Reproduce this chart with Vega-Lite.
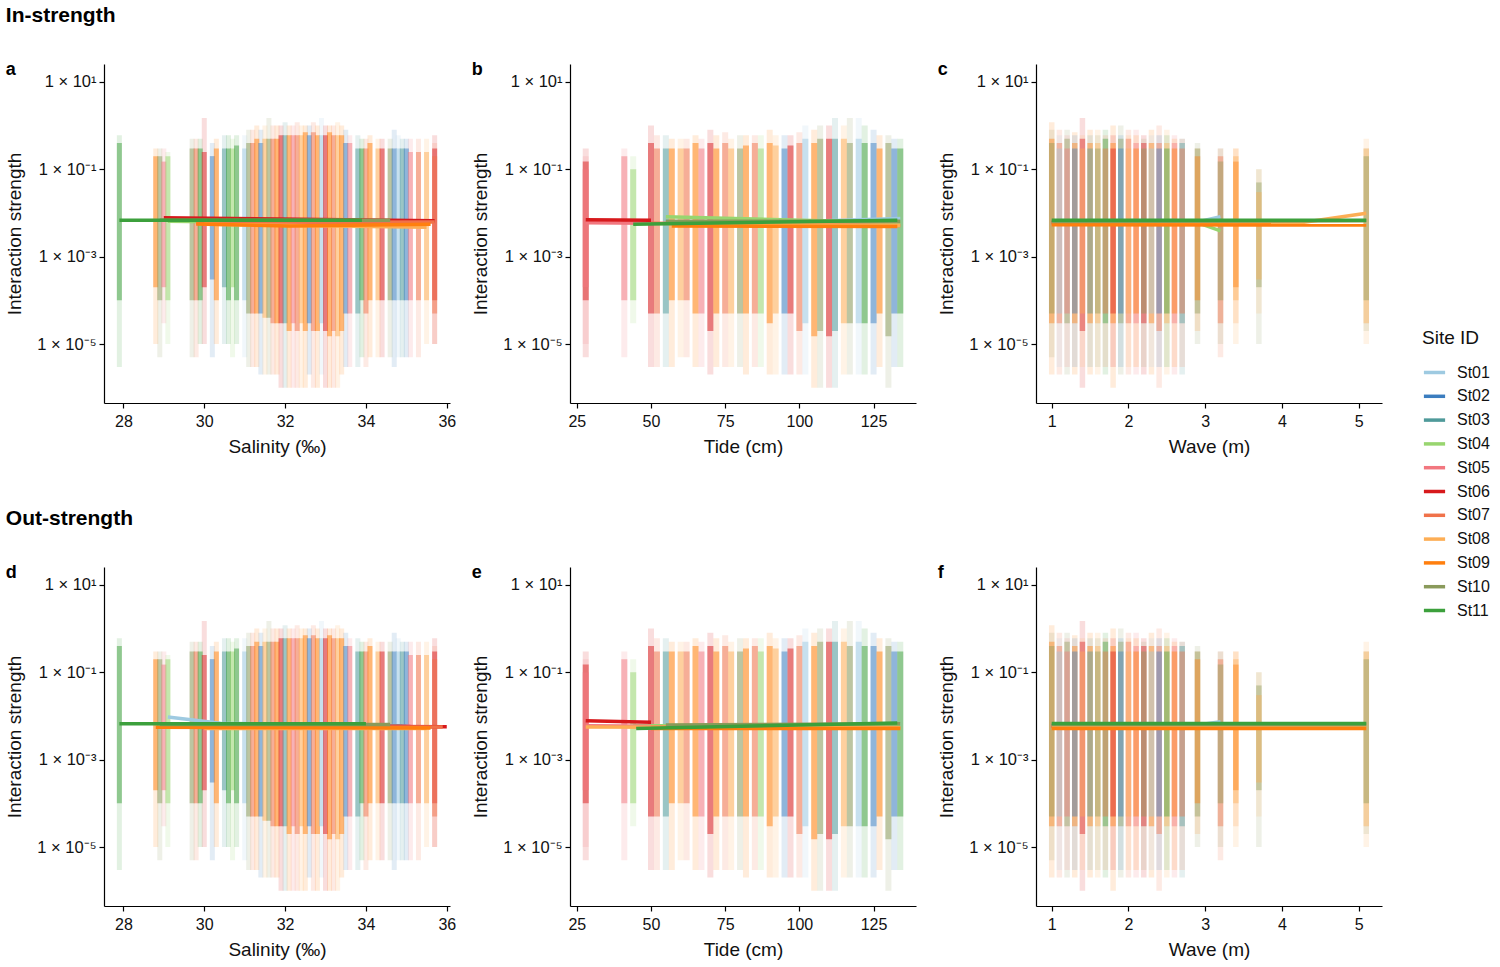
{
"$schema": "https://vega.github.io/schema/vega-lite/v6.json",
"padding": {"left": 5, "top": 5, "right": 5, "bottom": 5},
"config": {
  "font": "Liberation Sans",
  "view": {"stroke": null},
  "range": {"category": ["#9ecae1","#3b7dbf","#4f9a9a","#98d56f","#f2777f","#d7191c","#f0724a","#fdae55","#ff7f0e","#8a9a5b","#3ca03c"]},
  "axis": {"grid": false, "domainColor": "#000", "domainWidth": 1.2, "tickColor": "#000", "tickSize": 5, "tickWidth": 1.2, "labelFontSize": 16, "labelColor": "#111", "titleFontSize": 19, "titleFontWeight": "normal", "titleColor": "#111", "labelPadding": 3},
  "axisX": {"labelFlush": false, "labelPadding": 5, "titlePadding": 8, "labelOverlap": false},
  "axisY": {"labelFontSize": 16.5, "titlePadding": 12},
  "legend": {"orient": "none", "legendX": 1318, "legendY": 265, "symbolType": "stroke", "symbolStrokeWidth": 3.5, "symbolSize": 450, "symbolOpacity": 1, "titleFontSize": 19, "titleFontWeight": "normal", "titleColor": "#111", "labelFontSize": 16, "labelColor": "#111", "labelOffset": 10, "rowPadding": 2.8, "titlePadding": 12},
  "title": {"color": "#000"}
},
"datasets": {
  "sal": [
    {"x":27.9,"site":"St11","lo":1e-4,"hi":0.4,"lo2":3e-6,"hi2":0.6},
    {"x":28.8,"site":"St09","lo":2e-4,"hi":0.2,"lo2":1e-5,"hi2":0.3},
    {"x":28.9,"site":"St10","lo":1e-4,"hi":0.2,"lo2":5e-6,"hi2":0.3},
    {"x":29.0,"site":"St05","lo":2e-4,"hi":0.15,"lo2":3e-5,"hi2":0.3},
    {"x":29.1,"site":"St04","lo":1e-4,"hi":0.2,"lo2":1e-5,"hi2":0.25},
    {"x":29.7,"site":"St10","lo":1e-4,"hi":0.3,"lo2":5e-6,"hi2":0.5},
    {"x":29.8,"site":"St07","lo":1e-4,"hi":0.3,"lo2":5e-6,"hi2":0.5},
    {"x":29.9,"site":"St11","lo":1e-4,"hi":0.3,"lo2":1e-5,"hi2":0.5},
    {"x":30.0,"site":"St06","lo":2e-4,"hi":0.25,"lo2":1e-5,"hi2":1.5},
    {"x":30.2,"site":"St02","lo":3e-4,"hi":0.2,"lo2":5e-6,"hi2":0.4},
    {"x":30.3,"site":"St09","lo":1e-4,"hi":0.3,"lo2":1e-5,"hi2":0.5},
    {"x":30.5,"site":"St03","lo":2e-4,"hi":0.3,"lo2":1e-5,"hi2":0.6},
    {"x":30.6,"site":"St11","lo":1e-4,"hi":0.3,"lo2":1e-5,"hi2":0.6},
    {"x":30.7,"site":"St04","lo":2e-4,"hi":0.3,"lo2":5e-6,"hi2":0.5},
    {"x":30.8,"site":"St11","lo":1e-4,"hi":0.35,"lo2":1e-5,"hi2":0.6},
    {"x":31.0,"site":"St01","lo":1e-4,"hi":0.3,"lo2":5e-6,"hi2":0.6},
    {"x":31.1,"site":"St10","lo":5e-5,"hi":0.4,"lo2":3e-6,"hi2":0.8},
    {"x":31.2,"site":"St07","lo":5e-5,"hi":0.4,"lo2":3e-6,"hi2":0.8},
    {"x":31.3,"site":"St09","lo":5e-5,"hi":0.5,"lo2":3e-6,"hi2":1},
    {"x":31.4,"site":"St02","lo":5e-5,"hi":0.4,"lo2":2e-6,"hi2":0.8},
    {"x":31.5,"site":"St08","lo":4e-5,"hi":0.5,"lo2":2e-6,"hi2":1},
    {"x":31.6,"site":"St10","lo":4e-5,"hi":0.5,"lo2":2e-6,"hi2":1.5},
    {"x":31.7,"site":"St07","lo":3e-5,"hi":0.5,"lo2":2e-6,"hi2":1},
    {"x":31.8,"site":"St09","lo":3e-5,"hi":0.5,"lo2":2e-6,"hi2":1},
    {"x":31.9,"site":"St06","lo":3e-5,"hi":0.6,"lo2":1e-6,"hi2":1},
    {"x":32.0,"site":"St03","lo":3e-5,"hi":0.6,"lo2":1e-6,"hi2":1.2},
    {"x":32.1,"site":"St09","lo":2e-5,"hi":0.6,"lo2":1e-6,"hi2":1},
    {"x":32.2,"site":"St05","lo":3e-5,"hi":0.6,"lo2":1e-6,"hi2":1},
    {"x":32.3,"site":"St07","lo":2e-5,"hi":0.6,"lo2":1e-6,"hi2":1.2},
    {"x":32.4,"site":"St08","lo":3e-5,"hi":0.6,"lo2":1e-6,"hi2":1},
    {"x":32.5,"site":"St09","lo":2e-5,"hi":0.7,"lo2":1e-6,"hi2":1},
    {"x":32.6,"site":"St02","lo":3e-5,"hi":0.6,"lo2":2e-6,"hi2":1},
    {"x":32.7,"site":"St07","lo":2e-5,"hi":0.7,"lo2":1e-6,"hi2":1.2},
    {"x":32.8,"site":"St09","lo":2e-5,"hi":0.6,"lo2":1e-6,"hi2":1},
    {"x":32.9,"site":"St01","lo":3e-5,"hi":0.6,"lo2":2e-6,"hi2":1.5},
    {"x":33.0,"site":"St06","lo":2e-5,"hi":0.6,"lo2":1e-6,"hi2":1},
    {"x":33.1,"site":"St09","lo":1.5e-5,"hi":0.7,"lo2":1e-6,"hi2":1},
    {"x":33.2,"site":"St07","lo":2e-5,"hi":0.6,"lo2":1e-6,"hi2":1},
    {"x":33.3,"site":"St08","lo":1.5e-5,"hi":0.6,"lo2":1e-6,"hi2":1.2},
    {"x":33.4,"site":"St09","lo":2e-5,"hi":0.6,"lo2":2e-6,"hi2":1},
    {"x":33.5,"site":"St02","lo":5e-5,"hi":0.4,"lo2":3e-6,"hi2":0.8},
    {"x":33.6,"site":"St05","lo":5e-5,"hi":0.4,"lo2":3e-6,"hi2":0.6},
    {"x":33.8,"site":"St03","lo":5e-5,"hi":0.3,"lo2":3e-6,"hi2":0.6},
    {"x":33.9,"site":"St11","lo":1e-4,"hi":0.3,"lo2":5e-6,"hi2":0.5},
    {"x":34.0,"site":"St07","lo":5e-5,"hi":0.3,"lo2":3e-6,"hi2":0.5},
    {"x":34.1,"site":"St09","lo":1e-4,"hi":0.4,"lo2":5e-6,"hi2":0.6},
    {"x":34.3,"site":"St08","lo":1e-4,"hi":0.3,"lo2":5e-6,"hi2":0.5},
    {"x":34.4,"site":"St06","lo":1e-4,"hi":0.3,"lo2":5e-6,"hi2":0.5},
    {"x":34.6,"site":"St10","lo":1e-4,"hi":0.3,"lo2":5e-6,"hi2":0.5},
    {"x":34.7,"site":"St02","lo":1e-4,"hi":0.3,"lo2":3e-6,"hi2":0.8},
    {"x":34.8,"site":"St01","lo":1e-4,"hi":0.3,"lo2":5e-6,"hi2":0.6},
    {"x":34.9,"site":"St03","lo":1e-4,"hi":0.3,"lo2":5e-6,"hi2":0.5},
    {"x":35.0,"site":"St02","lo":1e-4,"hi":0.3,"lo2":5e-6,"hi2":0.5},
    {"x":35.1,"site":"St05","lo":1e-4,"hi":0.25,"lo2":5e-6,"hi2":0.5},
    {"x":35.3,"site":"St07","lo":1e-4,"hi":0.25,"lo2":5e-6,"hi2":0.5},
    {"x":35.5,"site":"St08","lo":1e-4,"hi":0.25,"lo2":1e-5,"hi2":0.5},
    {"x":35.7,"site":"St06","lo":1e-4,"hi":0.3,"lo2":1e-5,"hi2":0.6},
    {"x":35.7,"site":"St07","lo":5e-5,"hi":0.2,"lo2":1e-5,"hi2":0.4}
  ],
  "tide": [
    {"x":28,"site":"St06","lo":1e-4,"hi":0.15,"lo2":5e-6,"hi2":0.3},
    {"x":28,"site":"St05","lo":2e-4,"hi":0.1,"lo2":1e-5,"hi2":0.2},
    {"x":41,"site":"St05","lo":1e-4,"hi":0.2,"lo2":5e-6,"hi2":0.3},
    {"x":44,"site":"St04","lo":1e-4,"hi":0.1,"lo2":3e-5,"hi2":0.2},
    {"x":50,"site":"St06","lo":5e-5,"hi":0.4,"lo2":3e-6,"hi2":1},
    {"x":52,"site":"St07","lo":5e-5,"hi":0.3,"lo2":3e-6,"hi2":0.6},
    {"x":55,"site":"St03","lo":5e-5,"hi":0.3,"lo2":3e-6,"hi2":0.6},
    {"x":57,"site":"St09","lo":1e-4,"hi":0.3,"lo2":3e-6,"hi2":0.5},
    {"x":60,"site":"St08","lo":1e-4,"hi":0.3,"lo2":5e-6,"hi2":0.5},
    {"x":62,"site":"St07","lo":1e-4,"hi":0.3,"lo2":5e-6,"hi2":0.5},
    {"x":65,"site":"St09","lo":5e-5,"hi":0.4,"lo2":3e-6,"hi2":0.6},
    {"x":67,"site":"St05","lo":5e-5,"hi":0.3,"lo2":3e-6,"hi2":0.5},
    {"x":70,"site":"St06","lo":2e-5,"hi":0.4,"lo2":2e-6,"hi2":0.8},
    {"x":72,"site":"St09","lo":5e-5,"hi":0.3,"lo2":3e-6,"hi2":0.6},
    {"x":75,"site":"St07","lo":5e-5,"hi":0.4,"lo2":3e-6,"hi2":0.7},
    {"x":77,"site":"St08","lo":5e-5,"hi":0.3,"lo2":3e-6,"hi2":0.5},
    {"x":80,"site":"St10","lo":5e-5,"hi":0.3,"lo2":3e-6,"hi2":0.6},
    {"x":82,"site":"St09","lo":5e-5,"hi":0.35,"lo2":2e-6,"hi2":0.6},
    {"x":85,"site":"St07","lo":5e-5,"hi":0.4,"lo2":3e-6,"hi2":0.6},
    {"x":87,"site":"St04","lo":5e-5,"hi":0.3,"lo2":3e-6,"hi2":0.6},
    {"x":90,"site":"St09","lo":3e-5,"hi":0.4,"lo2":2e-6,"hi2":0.8},
    {"x":92,"site":"St08","lo":5e-5,"hi":0.35,"lo2":2e-6,"hi2":0.6},
    {"x":95,"site":"St02","lo":5e-5,"hi":0.3,"lo2":2e-6,"hi2":0.6},
    {"x":97,"site":"St06","lo":5e-5,"hi":0.35,"lo2":2e-6,"hi2":0.6},
    {"x":100,"site":"St07","lo":2e-5,"hi":0.4,"lo2":2e-6,"hi2":0.7},
    {"x":102,"site":"St01","lo":3e-5,"hi":0.5,"lo2":2e-6,"hi2":1},
    {"x":105,"site":"St09","lo":1.5e-5,"hi":0.4,"lo2":1e-6,"hi2":0.8},
    {"x":107,"site":"St10","lo":2e-5,"hi":0.5,"lo2":1e-6,"hi2":1},
    {"x":110,"site":"St06","lo":1.5e-5,"hi":0.5,"lo2":1e-6,"hi2":1},
    {"x":112,"site":"St03","lo":2e-5,"hi":0.5,"lo2":1e-6,"hi2":1.5},
    {"x":115,"site":"St08","lo":3e-5,"hi":0.5,"lo2":2e-6,"hi2":1},
    {"x":117,"site":"St10","lo":3e-5,"hi":0.4,"lo2":2e-6,"hi2":1.5},
    {"x":120,"site":"St01","lo":3e-5,"hi":0.5,"lo2":2e-6,"hi2":1.5},
    {"x":122,"site":"St11","lo":3e-5,"hi":0.4,"lo2":2e-6,"hi2":1},
    {"x":125,"site":"St02","lo":3e-5,"hi":0.4,"lo2":2e-6,"hi2":0.8},
    {"x":127,"site":"St09","lo":5e-5,"hi":0.3,"lo2":3e-6,"hi2":0.6},
    {"x":130,"site":"St10","lo":1.5e-5,"hi":0.4,"lo2":1e-6,"hi2":0.6},
    {"x":132,"site":"St02","lo":5e-5,"hi":0.3,"lo2":3e-6,"hi2":0.5},
    {"x":134,"site":"St11","lo":5e-5,"hi":0.3,"lo2":3e-6,"hi2":0.5}
  ],
  "wave": [
    {"x":1.0,"site":"St09","lo":3e-5,"hi":0.5,"lo2":2e-6,"hi2":1.2},
    {"x":1.0,"site":"St10","lo":5e-5,"hi":0.4,"lo2":5e-6,"hi2":0.8},
    {"x":1.1,"site":"St07","lo":3e-5,"hi":0.4,"lo2":2e-6,"hi2":0.8},
    {"x":1.1,"site":"St01","lo":5e-5,"hi":0.3,"lo2":3e-6,"hi2":0.6},
    {"x":1.2,"site":"St10","lo":3e-5,"hi":0.5,"lo2":2e-6,"hi2":0.8},
    {"x":1.2,"site":"St05","lo":5e-5,"hi":0.3,"lo2":3e-6,"hi2":0.6},
    {"x":1.3,"site":"St09","lo":3e-5,"hi":0.4,"lo2":2e-6,"hi2":0.7},
    {"x":1.3,"site":"St02","lo":5e-5,"hi":0.3,"lo2":3e-6,"hi2":0.6},
    {"x":1.4,"site":"St06","lo":2e-5,"hi":0.5,"lo2":1e-6,"hi2":1.5},
    {"x":1.4,"site":"St08","lo":5e-5,"hi":0.3,"lo2":3e-6,"hi2":0.6},
    {"x":1.5,"site":"St09","lo":3e-5,"hi":0.4,"lo2":2e-6,"hi2":0.8},
    {"x":1.5,"site":"St03","lo":5e-5,"hi":0.3,"lo2":3e-6,"hi2":0.6},
    {"x":1.6,"site":"St08","lo":3e-5,"hi":0.4,"lo2":2e-6,"hi2":0.8},
    {"x":1.6,"site":"St10","lo":5e-5,"hi":0.3,"lo2":3e-6,"hi2":0.6},
    {"x":1.7,"site":"St11","lo":3e-5,"hi":0.5,"lo2":2e-6,"hi2":0.8},
    {"x":1.7,"site":"St07","lo":5e-5,"hi":0.3,"lo2":3e-6,"hi2":0.6},
    {"x":1.8,"site":"St09","lo":3e-5,"hi":0.4,"lo2":1e-6,"hi2":1},
    {"x":1.8,"site":"St06","lo":5e-5,"hi":0.3,"lo2":3e-6,"hi2":0.6},
    {"x":1.9,"site":"St10","lo":3e-5,"hi":0.5,"lo2":2e-6,"hi2":1},
    {"x":1.9,"site":"St02","lo":5e-5,"hi":0.3,"lo2":3e-6,"hi2":0.6},
    {"x":2.0,"site":"St07","lo":3e-5,"hi":0.5,"lo2":2e-6,"hi2":0.8},
    {"x":2.0,"site":"St08","lo":5e-5,"hi":0.3,"lo2":3e-6,"hi2":0.6},
    {"x":2.1,"site":"St05","lo":3e-5,"hi":0.4,"lo2":2e-6,"hi2":0.8},
    {"x":2.1,"site":"St09","lo":5e-5,"hi":0.3,"lo2":3e-6,"hi2":0.6},
    {"x":2.2,"site":"St06","lo":3e-5,"hi":0.4,"lo2":2e-6,"hi2":0.6},
    {"x":2.2,"site":"St10","lo":5e-5,"hi":0.3,"lo2":3e-6,"hi2":0.5},
    {"x":2.3,"site":"St09","lo":3e-5,"hi":0.4,"lo2":2e-6,"hi2":0.8},
    {"x":2.3,"site":"St01","lo":5e-5,"hi":0.3,"lo2":3e-6,"hi2":0.6},
    {"x":2.4,"site":"St07","lo":2e-5,"hi":0.4,"lo2":1e-6,"hi2":1},
    {"x":2.4,"site":"St02","lo":5e-5,"hi":0.3,"lo2":3e-6,"hi2":0.6},
    {"x":2.5,"site":"St08","lo":3e-5,"hi":0.4,"lo2":2e-6,"hi2":0.8},
    {"x":2.5,"site":"St11","lo":5e-5,"hi":0.3,"lo2":3e-6,"hi2":0.6},
    {"x":2.6,"site":"St05","lo":3e-5,"hi":0.4,"lo2":2e-6,"hi2":0.6},
    {"x":2.6,"site":"St09","lo":5e-5,"hi":0.3,"lo2":3e-6,"hi2":0.5},
    {"x":2.7,"site":"St03","lo":3e-5,"hi":0.4,"lo2":2e-6,"hi2":0.5},
    {"x":2.7,"site":"St07","lo":5e-5,"hi":0.3,"lo2":3e-6,"hi2":0.5},
    {"x":2.9,"site":"St10","lo":5e-5,"hi":0.3,"lo2":1e-5,"hi2":0.4},
    {"x":2.9,"site":"St09","lo":1e-4,"hi":0.2,"lo2":2e-5,"hi2":0.3},
    {"x":3.2,"site":"St07","lo":3e-5,"hi":0.2,"lo2":5e-6,"hi2":0.3},
    {"x":3.2,"site":"St10","lo":1e-4,"hi":0.15,"lo2":1e-5,"hi2":0.3},
    {"x":3.4,"site":"St08","lo":1e-4,"hi":0.2,"lo2":1e-5,"hi2":0.3},
    {"x":3.4,"site":"St09","lo":2e-4,"hi":0.15,"lo2":3e-5,"hi2":0.3},
    {"x":3.7,"site":"St10","lo":2e-4,"hi":0.05,"lo2":1e-5,"hi2":0.1},
    {"x":3.7,"site":"St08","lo":3e-4,"hi":0.03,"lo2":5e-5,"hi2":0.1},
    {"x":5.1,"site":"St08","lo":3e-5,"hi":0.3,"lo2":1e-5,"hi2":0.5},
    {"x":5.1,"site":"St10","lo":1e-4,"hi":0.2,"lo2":2e-5,"hi2":0.3}
  ],
  "trend": [
    {"p":"a","site":"St01","x":30.9,"y":0.0062},{"p":"a","site":"St01","x":34.8,"y":0.006},
    {"p":"a","site":"St02","x":30.2,"y":0.006},{"p":"a","site":"St02","x":35.0,"y":0.0058},
    {"p":"a","site":"St03","x":30.5,"y":0.006},{"p":"a","site":"St03","x":34.9,"y":0.0061},
    {"p":"a","site":"St04","x":29.1,"y":0.0065},{"p":"a","site":"St04","x":30.7,"y":0.0062},
    {"p":"a","site":"St05","x":29.0,"y":0.007},{"p":"a","site":"St05","x":35.1,"y":0.0065},
    {"p":"a","site":"St06","x":29.0,"y":0.0078},{"p":"a","site":"St06","x":35.7,"y":0.0066},
    {"p":"a","site":"St07","x":29.8,"y":0.006},{"p":"a","site":"St07","x":35.7,"y":0.0062},
    {"p":"a","site":"St08","x":30.0,"y":0.0055},{"p":"a","site":"St08","x":35.5,"y":0.0047},
    {"p":"a","site":"St09","x":29.8,"y":0.0056},{"p":"a","site":"St09","x":32.1,"y":0.005},{"p":"a","site":"St09","x":35.6,"y":0.0055},
    {"p":"a","site":"St10","x":28.9,"y":0.0068},{"p":"a","site":"St10","x":34.6,"y":0.0068},
    {"p":"a","site":"St11","x":27.9,"y":0.0068},{"p":"a","site":"St11","x":33.9,"y":0.0068},

    {"p":"b","site":"St01","x":95,"y":0.0062},{"p":"b","site":"St01","x":134,"y":0.0075},
    {"p":"b","site":"St02","x":95,"y":0.006},{"p":"b","site":"St02","x":132,"y":0.0058},
    {"p":"b","site":"St03","x":55,"y":0.0062},{"p":"b","site":"St03","x":132,"y":0.006},
    {"p":"b","site":"St04","x":55,"y":0.0082},{"p":"b","site":"St04","x":134,"y":0.006},
    {"p":"b","site":"St05","x":28,"y":0.006},{"p":"b","site":"St05","x":50,"y":0.0058},
    {"p":"b","site":"St06","x":28,"y":0.007},{"p":"b","site":"St06","x":50,"y":0.0068},
    {"p":"b","site":"St07","x":50,"y":0.0058},{"p":"b","site":"St07","x":134,"y":0.0052},
    {"p":"b","site":"St08","x":60,"y":0.0055},{"p":"b","site":"St08","x":134,"y":0.0052},
    {"p":"b","site":"St09","x":57,"y":0.005},{"p":"b","site":"St09","x":133,"y":0.0049},
    {"p":"b","site":"St10","x":55,"y":0.0065},{"p":"b","site":"St10","x":134,"y":0.0065},
    {"p":"b","site":"St11","x":44,"y":0.0055},{"p":"b","site":"St11","x":133,"y":0.0068},

    {"p":"c","site":"St01","x":1.0,"y":0.0058},{"p":"c","site":"St01","x":2.9,"y":0.0062},{"p":"c","site":"St01","x":3.2,"y":0.0082},
    {"p":"c","site":"St02","x":1.0,"y":0.006},{"p":"c","site":"St02","x":3.2,"y":0.006},
    {"p":"c","site":"St03","x":1.0,"y":0.0061},{"p":"c","site":"St03","x":2.9,"y":0.006},
    {"p":"c","site":"St04","x":1.0,"y":0.006},{"p":"c","site":"St04","x":2.9,"y":0.006},{"p":"c","site":"St04","x":3.2,"y":0.0039},
    {"p":"c","site":"St05","x":1.0,"y":0.0058},{"p":"c","site":"St05","x":2.7,"y":0.006},
    {"p":"c","site":"St06","x":1.0,"y":0.006},{"p":"c","site":"St06","x":2.7,"y":0.0058},
    {"p":"c","site":"St07","x":1.0,"y":0.006},{"p":"c","site":"St07","x":3.7,"y":0.0058},
    {"p":"c","site":"St08","x":1.0,"y":0.0058},{"p":"c","site":"St08","x":4.2,"y":0.0058},{"p":"c","site":"St08","x":5.1,"y":0.0098},
    {"p":"c","site":"St09","x":1.0,"y":0.0054},{"p":"c","site":"St09","x":5.1,"y":0.0053},
    {"p":"c","site":"St10","x":1.0,"y":0.0064},{"p":"c","site":"St10","x":5.1,"y":0.0066},
    {"p":"c","site":"St11","x":1.0,"y":0.0068},{"p":"c","site":"St11","x":5.1,"y":0.0068},

    {"p":"d","site":"St01","x":29.1,"y":0.0095},{"p":"d","site":"St01","x":30.4,"y":0.0068},{"p":"d","site":"St01","x":34.8,"y":0.006},
    {"p":"d","site":"St02","x":30.2,"y":0.006},{"p":"d","site":"St02","x":35.0,"y":0.0058},
    {"p":"d","site":"St03","x":30.5,"y":0.006},{"p":"d","site":"St03","x":34.9,"y":0.006},
    {"p":"d","site":"St04","x":29.1,"y":0.0062},{"p":"d","site":"St04","x":30.7,"y":0.006},
    {"p":"d","site":"St05","x":29.0,"y":0.006},{"p":"d","site":"St05","x":35.1,"y":0.0058},
    {"p":"d","site":"St06","x":29.0,"y":0.006},{"p":"d","site":"St06","x":36.0,"y":0.0057},
    {"p":"d","site":"St07","x":29.8,"y":0.0056},{"p":"d","site":"St07","x":35.9,"y":0.0056},
    {"p":"d","site":"St08","x":30.0,"y":0.0052},{"p":"d","site":"St08","x":35.5,"y":0.0052},
    {"p":"d","site":"St09","x":28.8,"y":0.0055},{"p":"d","site":"St09","x":35.6,"y":0.0053},
    {"p":"d","site":"St10","x":28.9,"y":0.0064},{"p":"d","site":"St10","x":34.6,"y":0.0064},
    {"p":"d","site":"St11","x":27.9,"y":0.0066},{"p":"d","site":"St11","x":34.0,"y":0.0066},

    {"p":"e","site":"St01","x":95,"y":0.006},{"p":"e","site":"St01","x":134,"y":0.0062},
    {"p":"e","site":"St02","x":95,"y":0.006},{"p":"e","site":"St02","x":132,"y":0.0058},
    {"p":"e","site":"St03","x":55,"y":0.0058},{"p":"e","site":"St03","x":132,"y":0.006},
    {"p":"e","site":"St04","x":44,"y":0.006},{"p":"e","site":"St04","x":134,"y":0.006},
    {"p":"e","site":"St05","x":28,"y":0.006},{"p":"e","site":"St05","x":50,"y":0.0058},
    {"p":"e","site":"St06","x":28,"y":0.0078},{"p":"e","site":"St06","x":50,"y":0.0072},
    {"p":"e","site":"St07","x":50,"y":0.0056},{"p":"e","site":"St07","x":134,"y":0.0054},
    {"p":"e","site":"St08","x":28,"y":0.0056},{"p":"e","site":"St08","x":134,"y":0.0053},
    {"p":"e","site":"St09","x":50,"y":0.0052},{"p":"e","site":"St09","x":134,"y":0.0052},
    {"p":"e","site":"St10","x":55,"y":0.0062},{"p":"e","site":"St10","x":134,"y":0.0066},
    {"p":"e","site":"St11","x":45,"y":0.0052},{"p":"e","site":"St11","x":133,"y":0.0069},

    {"p":"f","site":"St01","x":1.0,"y":0.006},{"p":"f","site":"St01","x":2.9,"y":0.0062},{"p":"f","site":"St01","x":3.2,"y":0.0074},
    {"p":"f","site":"St02","x":1.0,"y":0.006},{"p":"f","site":"St02","x":3.2,"y":0.006},
    {"p":"f","site":"St03","x":1.0,"y":0.006},{"p":"f","site":"St03","x":2.9,"y":0.006},
    {"p":"f","site":"St04","x":1.0,"y":0.006},{"p":"f","site":"St04","x":3.2,"y":0.0058},
    {"p":"f","site":"St05","x":1.0,"y":0.0058},{"p":"f","site":"St05","x":2.7,"y":0.0058},
    {"p":"f","site":"St06","x":1.0,"y":0.0058},{"p":"f","site":"St06","x":2.7,"y":0.0058},
    {"p":"f","site":"St07","x":1.0,"y":0.0057},{"p":"f","site":"St07","x":3.7,"y":0.0057},
    {"p":"f","site":"St08","x":1.0,"y":0.0056},{"p":"f","site":"St08","x":5.1,"y":0.0056},
    {"p":"f","site":"St09","x":1.0,"y":0.0052},{"p":"f","site":"St09","x":5.1,"y":0.0052},
    {"p":"f","site":"St10","x":1.0,"y":0.0064},{"p":"f","site":"St10","x":5.1,"y":0.0064},
    {"p":"f","site":"St11","x":1.0,"y":0.0067},{"p":"f","site":"St11","x":5.1,"y":0.0067}
  ]
},
"spacing": 52,
"vconcat": [
  {
    "title": {"text": "In-strength", "anchor": "start", "frame": "bounds", "fontSize": 21, "fontWeight": "bold", "offset": 35},
    "bounds": "flush",
    "spacing": 120,
    "hconcat": [
      {"width": 346, "height": 339,
       "title": {"text": "a", "anchor": "start", "frame": "bounds", "offset": -29, "baseline": "alphabetic", "fontSize": 18, "fontWeight": "bold"},
       "layer": [
        {"data": {"name": "sal"}, "mark": {"type": "rule", "strokeWidth": 5, "opacity": 0.15},
         "encoding": {
          "x": {"field": "x", "type": "quantitative", "scale": {"domain": [27.52, 36.08], "nice": false, "zero": false}, "axis": {"title": "Salinity (‰)", "values": [28, 30, 32, 34, 36]}},
          "y": {"field": "lo2", "type": "quantitative", "scale": {"type": "log", "domain": [4.47e-7, 25.7], "nice": false}, "axis": {"title": "Interaction strength", "values": [10, 0.1, 0.001, 0.00001], "labelExpr": "datum.value > 1 ? '1 × 10¹' : datum.value > 0.01 ? '1 × 10⁻¹' : datum.value > 0.0001 ? '1 × 10⁻³' : '1 × 10⁻⁵'"}},
          "y2": {"field": "hi2"},
          "color": {"field": "site", "type": "nominal", "title": "Site ID"}}},
        {"data": {"name": "sal"}, "mark": {"type": "rule", "strokeWidth": 5, "opacity": 0.5},
         "encoding": {"x": {"field": "x", "type": "quantitative"}, "y": {"field": "lo", "type": "quantitative"}, "y2": {"field": "hi"}, "color": {"field": "site", "type": "nominal", "title": "Site ID"}}},
        {"data": {"name": "trend"}, "transform": [{"filter": "datum.p === 'a'"}], "mark": {"type": "line", "strokeWidth": 3.5},
         "encoding": {"x": {"field": "x", "type": "quantitative"}, "y": {"field": "y", "type": "quantitative"}, "color": {"field": "site", "type": "nominal", "title": "Site ID"}}}
       ]},
      {"width": 346, "height": 339,
       "title": {"text": "b", "anchor": "start", "frame": "bounds", "offset": -29, "baseline": "alphabetic", "fontSize": 18, "fontWeight": "bold"},
       "layer": [
        {"data": {"name": "tide"}, "mark": {"type": "rule", "strokeWidth": 6, "opacity": 0.15},
         "encoding": {
          "x": {"field": "x", "type": "quantitative", "scale": {"domain": [22.7, 139.3], "nice": false, "zero": false}, "axis": {"title": "Tide (cm)", "values": [25, 50, 75, 100, 125]}},
          "y": {"field": "lo2", "type": "quantitative", "scale": {"type": "log", "domain": [4.47e-7, 25.7], "nice": false}, "axis": {"title": "Interaction strength", "values": [10, 0.1, 0.001, 0.00001], "labelExpr": "datum.value > 1 ? '1 × 10¹' : datum.value > 0.01 ? '1 × 10⁻¹' : datum.value > 0.0001 ? '1 × 10⁻³' : '1 × 10⁻⁵'"}},
          "y2": {"field": "hi2"},
          "color": {"field": "site", "type": "nominal", "title": "Site ID"}}},
        {"data": {"name": "tide"}, "mark": {"type": "rule", "strokeWidth": 6, "opacity": 0.5},
         "encoding": {"x": {"field": "x", "type": "quantitative"}, "y": {"field": "lo", "type": "quantitative"}, "y2": {"field": "hi"}, "color": {"field": "site", "type": "nominal", "title": "Site ID"}}},
        {"data": {"name": "trend"}, "transform": [{"filter": "datum.p === 'b'"}], "mark": {"type": "line", "strokeWidth": 3.5},
         "encoding": {"x": {"field": "x", "type": "quantitative"}, "y": {"field": "y", "type": "quantitative"}, "color": {"field": "site", "type": "nominal", "title": "Site ID"}}}
       ]},
      {"width": 346, "height": 339,
       "title": {"text": "c", "anchor": "start", "frame": "bounds", "offset": -29, "baseline": "alphabetic", "fontSize": 18, "fontWeight": "bold"},
       "layer": [
        {"data": {"name": "wave"}, "mark": {"type": "rule", "strokeWidth": 5.5, "opacity": 0.15},
         "encoding": {
          "x": {"field": "x", "type": "quantitative", "scale": {"domain": [0.795, 5.305], "nice": false, "zero": false}, "axis": {"title": "Wave (m)", "values": [1, 2, 3, 4, 5], "format": "d"}},
          "y": {"field": "lo2", "type": "quantitative", "scale": {"type": "log", "domain": [4.47e-7, 25.7], "nice": false}, "axis": {"title": "Interaction strength", "values": [10, 0.1, 0.001, 0.00001], "labelExpr": "datum.value > 1 ? '1 × 10¹' : datum.value > 0.01 ? '1 × 10⁻¹' : datum.value > 0.0001 ? '1 × 10⁻³' : '1 × 10⁻⁵'"}},
          "y2": {"field": "hi2"},
          "color": {"field": "site", "type": "nominal", "title": "Site ID"}}},
        {"data": {"name": "wave"}, "mark": {"type": "rule", "strokeWidth": 5.5, "opacity": 0.42},
         "encoding": {"x": {"field": "x", "type": "quantitative"}, "y": {"field": "lo", "type": "quantitative"}, "y2": {"field": "hi"}, "color": {"field": "site", "type": "nominal", "title": "Site ID"}}},
        {"data": {"name": "trend"}, "transform": [{"filter": "datum.p === 'c'"}], "mark": {"type": "line", "strokeWidth": 3.5},
         "encoding": {"x": {"field": "x", "type": "quantitative"}, "y": {"field": "y", "type": "quantitative"}, "color": {"field": "site", "type": "nominal", "title": "Site ID"}}}
       ]}
    ]
  },
  {
    "title": {"text": "Out-strength", "anchor": "start", "frame": "bounds", "fontSize": 21, "fontWeight": "bold", "offset": 35},
    "bounds": "flush",
    "spacing": 120,
    "hconcat": [
      {"width": 346, "height": 339,
       "title": {"text": "d", "anchor": "start", "frame": "bounds", "offset": -29, "baseline": "alphabetic", "fontSize": 18, "fontWeight": "bold"},
       "layer": [
        {"data": {"name": "sal"}, "mark": {"type": "rule", "strokeWidth": 5, "opacity": 0.15},
         "encoding": {
          "x": {"field": "x", "type": "quantitative", "scale": {"domain": [27.52, 36.08], "nice": false, "zero": false}, "axis": {"title": "Salinity (‰)", "values": [28, 30, 32, 34, 36]}},
          "y": {"field": "lo2", "type": "quantitative", "scale": {"type": "log", "domain": [4.47e-7, 25.7], "nice": false}, "axis": {"title": "Interaction strength", "values": [10, 0.1, 0.001, 0.00001], "labelExpr": "datum.value > 1 ? '1 × 10¹' : datum.value > 0.01 ? '1 × 10⁻¹' : datum.value > 0.0001 ? '1 × 10⁻³' : '1 × 10⁻⁵'"}},
          "y2": {"field": "hi2"},
          "color": {"field": "site", "type": "nominal", "title": "Site ID"}}},
        {"data": {"name": "sal"}, "mark": {"type": "rule", "strokeWidth": 5, "opacity": 0.5},
         "encoding": {"x": {"field": "x", "type": "quantitative"}, "y": {"field": "lo", "type": "quantitative"}, "y2": {"field": "hi"}, "color": {"field": "site", "type": "nominal", "title": "Site ID"}}},
        {"data": {"name": "trend"}, "transform": [{"filter": "datum.p === 'd'"}], "mark": {"type": "line", "strokeWidth": 3.5},
         "encoding": {"x": {"field": "x", "type": "quantitative"}, "y": {"field": "y", "type": "quantitative"}, "color": {"field": "site", "type": "nominal", "title": "Site ID"}}}
       ]},
      {"width": 346, "height": 339,
       "title": {"text": "e", "anchor": "start", "frame": "bounds", "offset": -29, "baseline": "alphabetic", "fontSize": 18, "fontWeight": "bold"},
       "layer": [
        {"data": {"name": "tide"}, "mark": {"type": "rule", "strokeWidth": 6, "opacity": 0.15},
         "encoding": {
          "x": {"field": "x", "type": "quantitative", "scale": {"domain": [22.7, 139.3], "nice": false, "zero": false}, "axis": {"title": "Tide (cm)", "values": [25, 50, 75, 100, 125]}},
          "y": {"field": "lo2", "type": "quantitative", "scale": {"type": "log", "domain": [4.47e-7, 25.7], "nice": false}, "axis": {"title": "Interaction strength", "values": [10, 0.1, 0.001, 0.00001], "labelExpr": "datum.value > 1 ? '1 × 10¹' : datum.value > 0.01 ? '1 × 10⁻¹' : datum.value > 0.0001 ? '1 × 10⁻³' : '1 × 10⁻⁵'"}},
          "y2": {"field": "hi2"},
          "color": {"field": "site", "type": "nominal", "title": "Site ID"}}},
        {"data": {"name": "tide"}, "mark": {"type": "rule", "strokeWidth": 6, "opacity": 0.5},
         "encoding": {"x": {"field": "x", "type": "quantitative"}, "y": {"field": "lo", "type": "quantitative"}, "y2": {"field": "hi"}, "color": {"field": "site", "type": "nominal", "title": "Site ID"}}},
        {"data": {"name": "trend"}, "transform": [{"filter": "datum.p === 'e'"}], "mark": {"type": "line", "strokeWidth": 3.5},
         "encoding": {"x": {"field": "x", "type": "quantitative"}, "y": {"field": "y", "type": "quantitative"}, "color": {"field": "site", "type": "nominal", "title": "Site ID"}}}
       ]},
      {"width": 346, "height": 339,
       "title": {"text": "f", "anchor": "start", "frame": "bounds", "offset": -29, "baseline": "alphabetic", "fontSize": 18, "fontWeight": "bold"},
       "layer": [
        {"data": {"name": "wave"}, "mark": {"type": "rule", "strokeWidth": 5.5, "opacity": 0.15},
         "encoding": {
          "x": {"field": "x", "type": "quantitative", "scale": {"domain": [0.795, 5.305], "nice": false, "zero": false}, "axis": {"title": "Wave (m)", "values": [1, 2, 3, 4, 5], "format": "d"}},
          "y": {"field": "lo2", "type": "quantitative", "scale": {"type": "log", "domain": [4.47e-7, 25.7], "nice": false}, "axis": {"title": "Interaction strength", "values": [10, 0.1, 0.001, 0.00001], "labelExpr": "datum.value > 1 ? '1 × 10¹' : datum.value > 0.01 ? '1 × 10⁻¹' : datum.value > 0.0001 ? '1 × 10⁻³' : '1 × 10⁻⁵'"}},
          "y2": {"field": "hi2"},
          "color": {"field": "site", "type": "nominal", "title": "Site ID"}}},
        {"data": {"name": "wave"}, "mark": {"type": "rule", "strokeWidth": 5.5, "opacity": 0.42},
         "encoding": {"x": {"field": "x", "type": "quantitative"}, "y": {"field": "lo", "type": "quantitative"}, "y2": {"field": "hi"}, "color": {"field": "site", "type": "nominal", "title": "Site ID"}}},
        {"data": {"name": "trend"}, "transform": [{"filter": "datum.p === 'f'"}], "mark": {"type": "line", "strokeWidth": 3.5},
         "encoding": {"x": {"field": "x", "type": "quantitative"}, "y": {"field": "y", "type": "quantitative"}, "color": {"field": "site", "type": "nominal", "title": "Site ID"}}}
       ]}
    ]
  }
]
}
